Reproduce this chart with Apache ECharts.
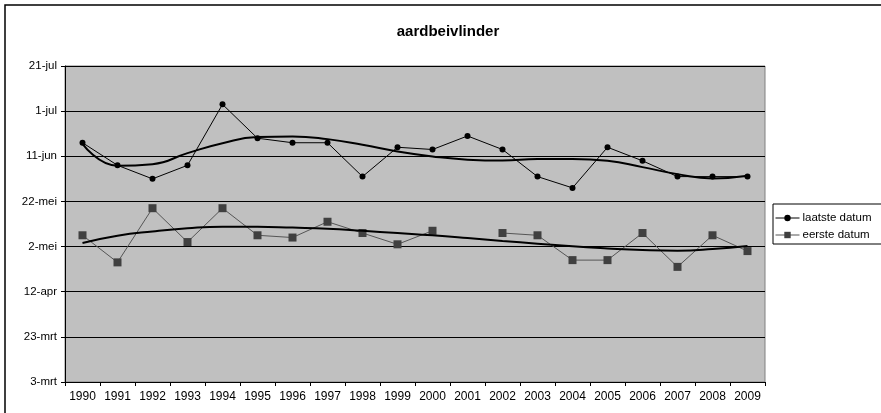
<!DOCTYPE html>
<html>
<head>
<meta charset="utf-8">
<script src="https://cdn.jsdelivr.net/npm/echarts@6/dist/echarts.min.js"></script>
<style>
html,body{margin:0;padding:0;background:#fff;}
#c{width:881px;height:413px;}
</style>
</head>
<body>
<div id="c"></div>
<script>
// Years (categories)
const years = ['1990','1991','1992','1993','1994','1995','1996','1997','1998','1999','2000','2001','2002','2003','2004','2005','2006','2007','2008','2009'];
// Y tick labels (every 20 days, starting at 3-mrt); values are days after 3-mrt
const yTickLabels = ['3-mrt','23-mrt','12-apr','2-mei','22-mei','11-jun','1-jul','21-jul'];
// laatste datum (days after 3-mrt)
const laatste = [106,96,90,96,123,108,106,106,91,104,103,109,103,91,86,104,98,91,91,91];
// eerste datum (days after 3-mrt)
const eerste = [65,53,77,62,77,65,64,71,66,61,67,null,66,65,54,54,66,51,65,58];
// trendlines
const laatsteTrend = [105.5,95.8,96.5,101.4,105.8,108.5,108.8,107.6,105.1,102.1,99.9,98.5,98.1,98.8,98.8,98,95.2,92.1,90.2,91.4];
const eersteTrend = [61.6,64.8,66.7,68.1,68.8,68.8,68.4,67.9,67,66,65,63.8,62.5,61.3,60.1,59.2,58.5,58.2,58.9,60.3];

const FONT = '"Liberation Sans", Arial, sans-serif';
const chart = echarts.init(document.getElementById('c'), null, {renderer:'canvas'});
chart.setOption({
  animation: false,
  backgroundColor: '#fff',
  textStyle: {fontFamily: FONT},
  title: {
    text: 'aardbeivlinder', left: 443, top: 19, textAlign: 'center',
    textStyle: {fontFamily: FONT, fontSize: 15, fontWeight: 'bold', color: '#000'}
  },
  graphic: [{
    type: 'rect', shape: {x: 5, y: 5, width: 1000, height: 1000},
    style: {fill: 'none', stroke: '#000', lineWidth: 1.5}, silent: true, z: 0
  }],
  legend: {
    orient: 'vertical', left: 773, top: 204,
    data: ['laatste datum', 'eerste datum'],
    itemWidth: 24, itemHeight: 8, itemGap: 5,
    padding: [8, 20, 3, 2],
    borderColor: '#000', borderWidth: 1, backgroundColor: '#fff',
    lineStyle: {width: 1},
    textStyle: {fontFamily: FONT, fontSize: 11.5, color: '#000', padding: [0,0,0,-2]}
  },
  grid: {
    left: 65, top: 66, width: 700, height: 316,
    show: true, backgroundColor: '#c0c0c0', borderColor: '#808080', borderWidth: 1
  },
  xAxis: {
    type: 'category', data: years, boundaryGap: true,
    axisLine: {lineStyle: {color: '#000', width: 1}},
    axisTick: {show: true, length: 4, lineStyle: {color: '#000'}},
    axisLabel: {interval: 0, fontFamily: FONT, fontSize: 12, color: '#000', margin: 9},
    splitLine: {show: false}
  },
  yAxis: {
    type: 'value', min: 0, max: 140, interval: 20,
    axisLine: {show: true, lineStyle: {color: '#000', width: 1}},
    axisTick: {show: true, length: 4, lineStyle: {color: '#000'}},
    axisLabel: {
      fontFamily: FONT, fontSize: 11.5, color: '#000', margin: 8,
      formatter: v => yTickLabels[Math.round(v / 20)]
    },
    splitLine: {show: true, lineStyle: {color: '#000', width: 1}}
  },
  series: [
    {
      name: 'laatste datum', type: 'line', data: laatste,
      symbol: 'circle', symbolSize: 6,
      lineStyle: {color: '#000', width: 1},
      itemStyle: {color: '#000'}, z: 3
    },
    {
      name: 'eerste datum', type: 'line', data: eerste, connectNulls: false,
      symbol: 'rect', symbolSize: 8,
      lineStyle: {color: '#555', width: 1},
      itemStyle: {color: '#404040'}, z: 3
    },
    {
      name: 'trend laatste', type: 'line', data: laatsteTrend, smooth: 0.5,
      symbol: 'none', lineStyle: {color: '#000', width: 2}, silent: true, z: 4
    },
    {
      name: 'trend eerste', type: 'line', data: eersteTrend, smooth: 0.5,
      symbol: 'none', lineStyle: {color: '#000', width: 2}, silent: true, z: 4
    }
  ]
});
</script>
</body>
</html>
